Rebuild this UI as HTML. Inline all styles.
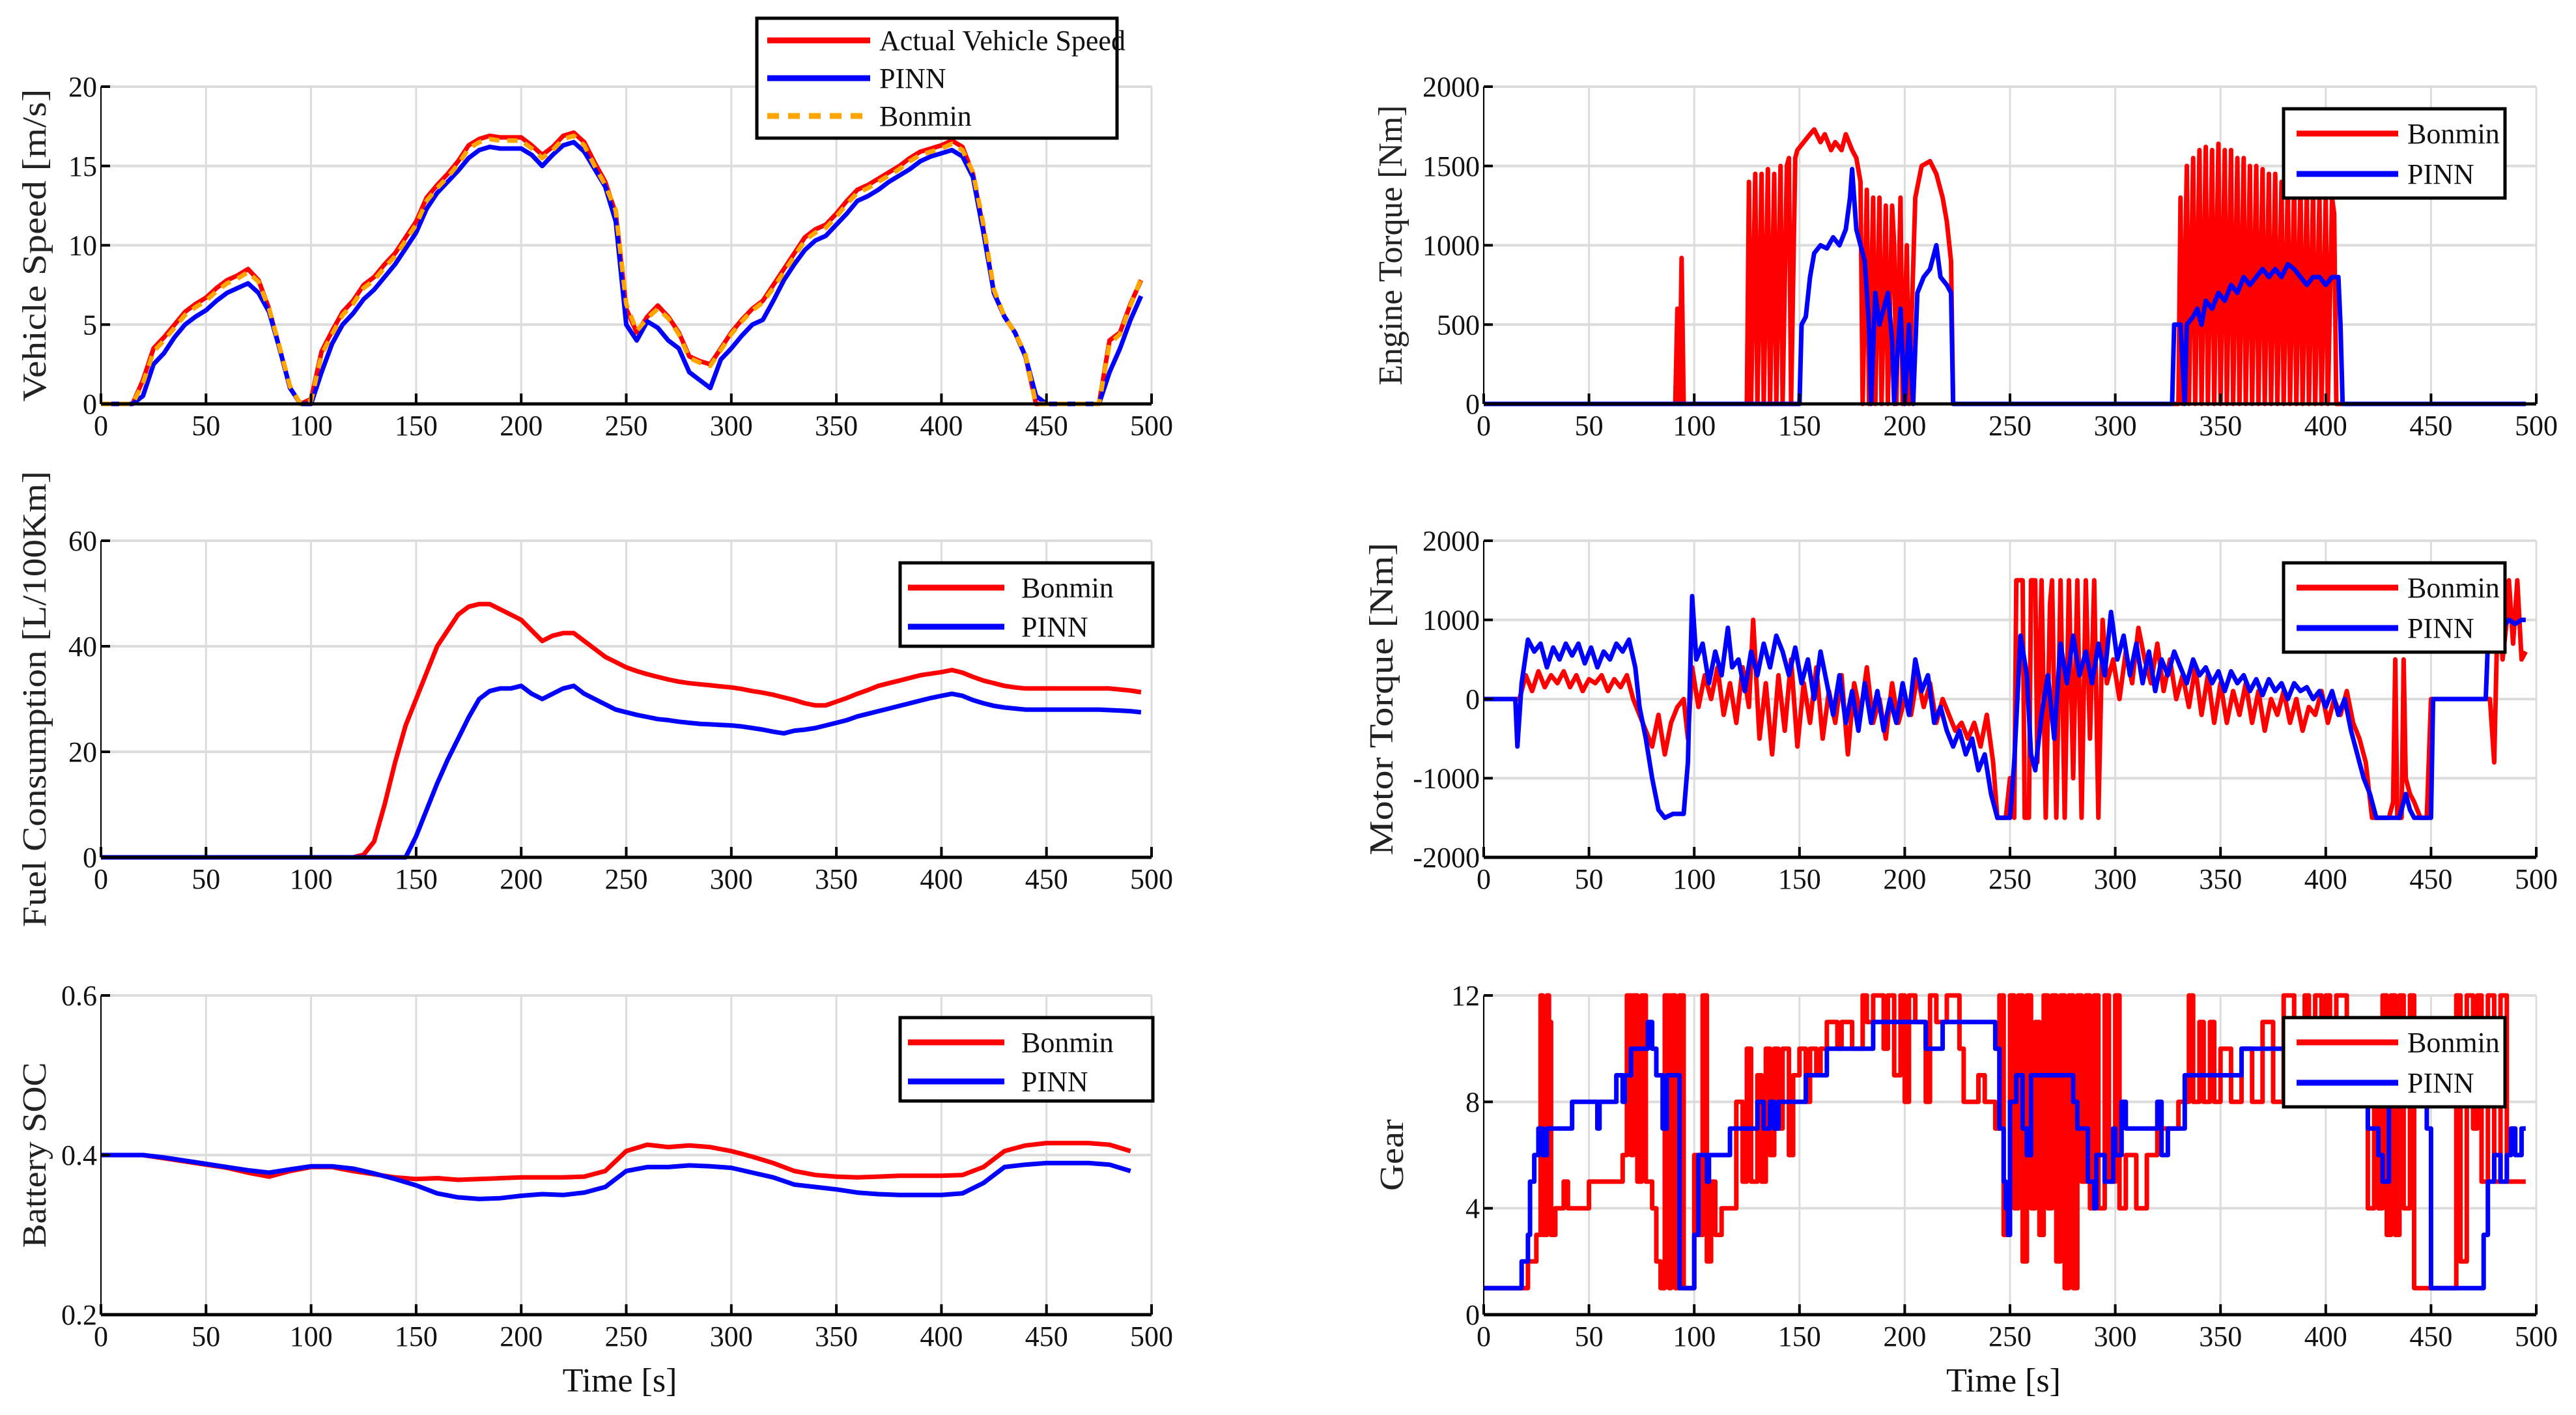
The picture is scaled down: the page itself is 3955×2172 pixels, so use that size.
<!DOCTYPE html>
<html><head><meta charset="utf-8">
<style>
html,body{margin:0;padding:0;background:#fff;}
svg{display:block;font-family:"Liberation Serif",serif;}
</style></head>
<body>
<svg id="fig" width="3955" height="2172" viewBox="0 0 3955 2172" xmlns="http://www.w3.org/2000/svg">
<rect width="3955" height="2172" fill="#fff"/>
</svg>
<script>
// ---- Data ----
const xTicks = [0,50,100,150,200,250,300,350,400,450,500];
const speedDt = 5;
const speedActual = [0,0,0,0,1.5,3.5,4.2,5,5.8,6.3,6.7,7.3,7.8,8.1,8.5,7.8,6,3.5,1,0,
0.3,3.3,4.6,5.8,6.5,7.5,8,8.8,9.5,10.5,
11.5,13,13.8,14.5,15.3,16.3,16.7,16.9,16.8,16.8,
16.8,16.3,15.7,16.2,16.9,17.1,16.5,15.2,14,12,
6,4.5,5.5,6.2,5.5,4.5,3,2.7,2.5,3.5,
4.5,5.3,6,6.5,7.5,8.5,9.5,10.5,11,11.3,
12,12.8,13.5,13.8,14.2,14.6,15,15.5,15.9,16.1,
16.3,16.6,16.2,14.5,11,7,5.5,4.5,3,0,
0,0,0,0,0,0,4,4.5,6.3,7.8];
const speedBonmin = [0,0,0,0,1.3,3.3,4,4.8,5.6,6.1,6.5,7.1,7.6,7.9,8.3,7.7,6,3.6,1.1,0,
0.2,3.1,4.4,5.6,6.3,7.3,7.8,8.6,9.3,10.3,
11.3,12.8,13.6,14.3,15.1,16.1,16.5,16.7,16.6,16.6,
16.6,16.1,15.5,16,16.7,16.9,16.3,15,13.8,12.2,
6.3,4.6,5.4,6,5.4,4.4,2.9,2.6,2.4,3.4,
4.4,5.2,5.9,6.4,7.3,8.3,9.3,10.3,10.8,11.1,
11.8,12.6,13.3,13.6,14,14.4,14.8,15.3,15.7,15.9,
16.1,16.4,16,14.6,11.3,7.2,5.5,4.5,3.1,0,
0,0,0,0,0,0,3.8,4.4,6.2,7.9];
const speedPINN = [0,0,0,0,0.5,2.5,3.2,4.2,5,5.5,5.9,6.5,7,7.3,7.6,7,5.8,3.5,1,0,
0,2,3.8,5,5.7,6.6,7.2,8,8.8,9.8,
10.8,12.3,13.3,14,14.7,15.5,16,16.2,16.1,16.1,
16.1,15.7,15,15.7,16.3,16.5,15.9,14.8,13.7,11.5,
5,4,5.2,4.8,4,3.5,2,1.5,1,2.8,
3.5,4.3,5,5.3,6.5,7.8,8.8,9.7,10.3,10.6,
11.3,12,12.8,13.1,13.5,14,14.4,14.8,15.3,15.6,
15.8,16,15.6,14.3,10.8,7,5.5,4.5,3,0.5,
0,0,0,0,0,0,2,3.5,5.3,6.8];
const speedTicks = [0,5,10,15,20];

const fuelDt = 5;
const fuelBonmin = [0,0,0,0,0,0,0,0,0,0,0,0,0,0,0,0,0,0,0,0,0,0,0,0,0,
0.5,3,10,18,25,30,35,40,43,46,
47.5,48,48,47,46,45,43,41,42,42.5,
42.5,41,39.5,38,37,36,35.3,34.7,34.2,33.7,
33.3,33,32.8,32.6,32.4,32.2,31.9,31.5,31.2,30.8,
30.3,29.8,29.2,28.8,28.8,29.5,30.2,31,31.7,32.5,
33,33.5,34,34.5,34.8,35.1,35.5,35,34.2,33.5,
33,32.5,32.2,32,32,32,32,32,32,32,
32,32,31.8,31.6,31.3];
const fuelPINN = [0,0,0,0,0,0,0,0,0,0,0,0,0,0,0,0,0,0,0,0,0,0,0,0,0,0,0,0,0,0,
4,9,14,18.5,22.5,26.5,30,31.5,32,32,
32.5,31,30,31,32,32.5,31,30,29,28,
27.5,27,26.6,26.2,26,25.7,25.5,25.3,25.2,25.1,
25,24.8,24.5,24.2,23.8,23.5,24,24.2,24.5,25,
25.5,26,26.7,27.2,27.7,28.2,28.7,29.2,29.7,30.2,
30.6,31,30.6,29.8,29.2,28.7,28.4,28.2,28,28,
28,28,28,28,28,28,27.9,27.8,27.7,27.5];
const fuelTicks = [0,20,40,60];

const socDt = 10;
const socBonmin = [0.4,0.4,0.4,0.396,0.392,0.388,0.384,0.378,0.373,0.38,
0.385,0.385,0.38,0.376,0.372,0.37,0.371,0.369,0.37,0.371,
0.372,0.372,0.372,0.373,0.38,0.405,0.413,0.41,0.412,0.41,
0.405,0.398,0.39,0.38,0.375,0.373,0.372,0.373,0.374,0.374,
0.374,0.375,0.385,0.405,0.412,0.415,0.415,0.415,0.413,0.405];
const socPINN = [0.4,0.4,0.4,0.397,0.393,0.389,0.385,0.381,0.378,0.382,
0.386,0.386,0.383,0.377,0.37,0.362,0.352,0.347,0.345,0.346,
0.349,0.351,0.35,0.353,0.36,0.38,0.385,0.385,0.387,0.386,
0.384,0.378,0.372,0.363,0.36,0.357,0.353,0.351,0.35,0.35,
0.35,0.352,0.365,0.385,0.388,0.39,0.39,0.39,0.388,0.38];
const socTicks = [0.2,0.4,0.6];

const engBonmin = [[0,0],[91,0],[92,600],[93,0],[94,920],[95,0],[125,0],[126,1400],[127,0],[129,1450],[130,0],[132,1450],[133,0],[135,1480],[136,0],[138,1450],[139,0],[141,1500],[142,0],[144,1500],[145,1550],[146,0],[148,1550],[149,1600],[152,1650],[155,1700],[157,1730],[160,1650],[162,1700],[165,1600],[167,1650],[170,1600],[172,1700],[175,1600],[177,1550],[179,1400],[180,0],[182,1350],[183,0],[185,1300],[186,0],[188,1300],[189,0],[191,1250],[192,0],[194,1250],[195,1000],[196,0],[198,1300],[199,0],[201,1000],[202,0],[205,1300],[208,1500],[212,1530],[215,1450],[218,1300],[220,1150],[222,900],[223,0],[330,0],[331,1300],[332,0],[334,1500],[335,0],[337,1550],[338,0],[340,1600],[341,0],[343,1620],[344,0],[346,1600],[347,0],[349,1640],[350,0],[352,1600],[353,0],[355,1600],[356,0],[358,1550],[359,0],[361,1550],[362,0],[364,1500],[365,0],[367,1500],[368,0],[370,1480],[371,0],[373,1450],[374,0],[376,1450],[377,0],[379,1400],[380,0],[382,1400],[383,0],[385,1400],[386,0],[388,1400],[389,0],[391,1350],[392,0],[394,1350],[395,0],[397,1300],[398,0],[400,1300],[401,0],[403,1300],[404,1200],[405,0],[495,0]];
const engPINN = [[0,0],[150,0],[151,500],[153,550],[155,800],[157,950],[160,1000],[163,980],[166,1050],[169,1000],[172,1100],[174,1300],[175,1480],[177,1100],[179,1000],[181,900],[183,500],[184,0],[186,700],[188,500],[190,600],[192,700],[194,400],[195,0],[198,600],[200,0],[202,500],[204,0],[206,700],[209,800],[212,850],[215,1000],[217,800],[220,750],[222,700],[223,0],[327,0],[328,500],[331,500],[333,0],[334,500],[337,550],[339,600],[341,500],[343,650],[346,600],[349,700],[352,650],[355,750],[358,700],[361,800],[364,750],[367,800],[370,850],[373,800],[376,850],[379,800],[382,880],[385,850],[388,800],[391,750],[394,800],[397,800],[400,750],[403,800],[406,800],[407,500],[408,0],[495,0]];
const engTicks = [0,500,1000,1500,2000];

const motBonmin = [[0,0],[17,0],[20,300],[23,100],[26,350],[29,150],[32,300],[35,200],[38,350],[41,150],[44,300],[47,100],[50,250],[53,200],[56,300],[59,100],[62,250],[65,150],[68,300],[71,0],[74,-200],[77,-400],[80,-600],[83,-200],[86,-700],[89,-300],[92,-100],[95,0],[97,-500],[99,400],[102,-100],[105,300],[108,0],[111,400],[114,-200],[117,200],[120,-300],[123,400],[126,-100],[128,1000],[131,-500],[134,200],[137,-700],[140,300],[143,-400],[146,500],[149,-600],[152,200],[155,-300],[158,400],[161,-500],[164,100],[167,-300],[170,300],[173,-700],[176,200],[179,-200],[182,400],[185,-300],[188,0],[191,-500],[194,200],[197,-300],[200,0],[203,-200],[206,300],[209,-100],[212,200],[215,-300],[218,0],[221,-200],[224,-400],[227,-300],[230,-500],[233,-300],[236,-600],[239,-200],[242,-800],[244,-1500],[248,-1500],[250,-1000],[252,-1500],[253,1500],[256,1500],[257,-1500],[259,-1500],[260,1500],[262,1500],[263,-800],[265,1500],[267,-1500],[269,1200],[270,1500],[272,-1500],[274,1500],[276,-1500],[278,1500],[280,-1000],[282,1500],[284,-1500],[286,1500],[288,-500],[290,1500],[292,-1500],[294,1000],[296,200],[299,500],[302,0],[305,600],[308,200],[311,900],[314,500],[317,200],[320,700],[323,100],[326,500],[329,0],[332,300],[335,-100],[338,400],[341,-200],[344,300],[347,-300],[350,200],[353,-300],[356,100],[359,-200],[362,200],[365,-300],[368,100],[371,-400],[374,0],[377,-200],[380,100],[383,-300],[386,0],[389,-400],[392,-100],[395,-200],[398,100],[401,-300],[404,0],[407,-200],[410,100],[413,-300],[416,-500],[419,-800],[422,-1500],[430,-1500],[432,-1300],[433,500],[434,-1500],[436,-1500],[437,500],[438,-1000],[440,-1200],[442,-1300],[445,-1500],[448,-1500],[450,0],[478,0],[480,-800],[482,1500],[484,500],[486,1000],[487,1500],[489,700],[491,1500],[493,500],[495,600]];
const motPINN = [[0,0],[15,0],[16,-600],[18,200],[21,750],[24,600],[27,700],[30,400],[33,650],[36,500],[39,700],[42,550],[45,700],[48,450],[51,650],[54,400],[57,600],[60,500],[63,700],[66,600],[69,750],[72,400],[74,-100],[77,-500],[80,-1000],[83,-1400],[86,-1500],[90,-1450],[95,-1450],[97,-800],[99,1300],[101,500],[104,700],[107,200],[110,600],[113,300],[116,900],[118,400],[121,500],[124,100],[127,600],[130,300],[133,700],[136,400],[139,800],[142,600],[145,300],[148,650],[151,200],[154,500],[157,0],[160,600],[163,200],[166,-200],[169,300],[172,-300],[175,100],[178,-400],[181,200],[184,-300],[187,100],[190,-400],[193,0],[196,-300],[199,200],[202,-200],[205,500],[208,100],[211,300],[214,-300],[217,-100],[220,-400],[223,-600],[226,-400],[229,-700],[232,-500],[235,-900],[238,-700],[241,-1200],[244,-1500],[250,-1500],[252,-800],[255,800],[258,300],[260,-700],[262,-900],[265,-200],[268,300],[271,-500],[274,700],[277,200],[280,800],[283,300],[286,600],[289,200],[292,700],[295,300],[298,1100],[301,500],[304,800],[307,300],[310,700],[313,200],[316,600],[319,100],[322,500],[325,300],[328,600],[331,400],[334,200],[337,500],[340,300],[343,400],[346,200],[349,350],[352,100],[355,350],[358,200],[361,300],[364,100],[367,250],[370,50],[373,250],[376,100],[379,200],[382,0],[385,200],[388,100],[391,150],[394,0],[397,100],[400,-100],[403,100],[406,-200],[409,0],[412,-400],[415,-700],[418,-1000],[421,-1200],[424,-1500],[435,-1500],[438,-1200],[440,-1400],[442,-1500],[450,-1500],[451,0],[476,0],[477,700],[479,1000],[481,800],[484,900],[487,1000],[490,950],[493,1000],[495,1000]];
const motTicks = [-2000,-1000,0,1000,2000];

const gearPINN = [[0,1],[18,2],[21,3],[22,5],[24,6],[26,7],[28,6],[30,7],[42,8],[54,7],[55,8],[63,9],[66,8],[67,9],[70,10],[78,11],[80,10],[82,9],[85,7],[87,9],[93,1],[97,1],[100,3],[102,6],[106,5],[107,6],[117,7],[130,8],[133,7],[136,8],[138,7],[140,8],[153,9],[163,10],[185,11],[210,10],[218,11],[243,10],[245,7],[247,5],[248,4],[249,3],[250,8],[253,9],[256,7],[258,6],[260,9],[280,8],[282,7],[287,5],[290,4],[291,6],[295,5],[299,7],[300,6],[303,8],[305,7],[320,8],[322,6],[325,7],[333,9],[360,10],[420,7],[425,6],[427,5],[430,8],[448,7],[450,1],[475,3],[477,5],[480,6],[483,5],[486,6],[488,7],[490,6],[493,7],[495,7]];
const gearBonmin = [[0,1],[21,2],[25,3],[27,12],[28,3],[30,12],[31,11],[32,3],[34,4],[38,5],[40,4],[50,5],[66,6],[68,12],[70,6],[71,12],[73,5],[75,12],[77,5],[80,4],[82,2],[84,1],[86,12],[88,1],[89,12],[91,1],[93,12],[95,1],[100,6],[102,3],[104,12],[106,2],[108,5],[110,3],[113,4],[120,8],[123,5],[125,10],[127,5],[130,9],[132,5],[134,10],[136,6],[138,10],[140,7],[142,10],[145,6],[147,9],[150,10],[153,8],[155,10],[158,9],[160,10],[163,11],[168,10],[170,11],[175,10],[180,12],[182,11],[185,12],[190,10],[192,12],[195,9],[198,12],[200,8],[202,12],[205,11],[210,8],[212,12],[215,11],[220,12],[226,10],[228,8],[235,9],[238,8],[243,7],[245,12],[247,3],[250,12],[252,4],[254,12],[256,2],[258,12],[260,4],[262,11],[264,3],[266,12],[268,4],[270,12],[272,2],[274,12],[276,1],[278,12],[280,1],[282,12],[284,5],[286,12],[288,4],[290,12],[292,4],[295,12],[297,5],[300,12],[302,4],[305,6],[310,4],[315,6],[320,7],[330,8],[335,12],[337,8],[340,11],[342,8],[345,11],[347,8],[350,10],[355,8],[360,10],[365,8],[370,11],[375,8],[380,12],[385,8],[390,12],[392,8],[395,12],[398,8],[400,12],[402,8],[405,12],[410,8],[415,11],[420,4],[423,9],[425,4],[427,12],[429,3],[431,12],[433,3],[435,12],[437,4],[440,12],[442,1],[462,12],[464,2],[467,12],[470,7],[472,12],[474,5],[477,12],[480,5],[483,12],[486,5],[495,5]];
const gearTicks = [0,4,8,12];

// ---- Drawing ----
const NS = "http://www.w3.org/2000/svg";
const svg = document.getElementById('fig');
function mk(tag, attrs, parent){
  const e = document.createElementNS(NS, tag);
  for (const k in attrs) e.setAttribute(k, attrs[k]);
  (parent||svg).appendChild(e);
  return e;
}
const RED = "#ff0000", BLUE = "#0000ff", ORANGE = "#ffa500";
const LW = 7;

function panel(cfg){
  const g = mk('g', {});
  
  
  const sx = v => cfg.x0 + (v - 0) / 500 * (cfg.x1 - cfg.x0);
  const sy = v => cfg.y1 - (v - cfg.ymin) / (cfg.ymax - cfg.ymin) * (cfg.y1 - cfg.y0);
  xTicks.forEach(t => {
    const l = mk('line', {x1:sx(t), x2:sx(t), y1:cfg.y0, y2:cfg.y1, stroke:'#dcdcdc', 'stroke-width':3}, g);
    
    
  });
  cfg.yTicks.forEach(t => {
    const l = mk('line', {x1:cfg.x0, x2:cfg.x1, y1:sy(t), y2:sy(t), stroke:'#dcdcdc', 'stroke-width':4}, g);
    
    
  });
  cfg.series.forEach(s => {
    let pts;
    if (s.dt) pts = s.vals.map((v,i) => [i*s.dt, v]);
    else pts = s.vals;
    let d = '';
    pts.forEach((p,i) => {
      const X = sx(p[0]).toFixed(1), Y = sy(p[1]).toFixed(1);
      if (i === 0) d += 'M' + X + ' ' + Y;
      else if (s.step) d += 'H' + X + 'V' + Y;
      else d += 'L' + X + ' ' + Y;
    });
    const a = {d:d, fill:'none', stroke:s.color, 'stroke-width':LW, 'stroke-linejoin':'round'};
    if (s.dash) a['stroke-dasharray'] = s.dash;
    const p = mk('path', a, g);
    
    
  });
  const ax = mk('line', {x1:cfg.x0, x2:cfg.x1, y1:cfg.y1, y2:cfg.y1, stroke:'#000', 'stroke-width':5}, g);
  
  
  const ay = mk('line', {x1:cfg.x0, x2:cfg.x0, y1:cfg.y0, y2:cfg.y1, stroke:'#000', 'stroke-width':2}, g);
  
  
  xTicks.forEach(t => {
    mk('line', {x1:sx(t), x2:sx(t), y1:cfg.y1, y2:cfg.y1-16, stroke:'#000', 'stroke-width':4}, g);
    const tx = mk('text', {x:sx(t), y:cfg.y1+48, 'font-size':44, 'text-anchor':'middle', fill:'#111'}, g);
    tx.textContent = t;
    
    
  });
  cfg.yTicks.forEach(t => {
    mk('line', {x1:cfg.x0, x2:cfg.x0+14, y1:sy(t), y2:sy(t), stroke:'#000', 'stroke-width':4}, g);
    const tx = mk('text', {x:cfg.x0-6, y:sy(t)+15, 'font-size':44, 'text-anchor':'end', fill:'#111'}, g);
    tx.textContent = t;
    
    
  });
  const yt = mk('text', {x:0, y:0, 'font-size':52, 'text-anchor':'middle', fill:'#222',
    transform:'translate(' + cfg.ylx + ',' + ((cfg.y0+cfg.y1)/2) + ') rotate(-90)'}, g);
  if (cfg.ylen) { yt.setAttribute('textLength', cfg.ylen); yt.setAttribute('lengthAdjust','spacingAndGlyphs'); }
  yt.textContent = cfg.ytitle;
  
  
  if (cfg.xtitle) {
    const xt = mk('text', {x:(cfg.x0+cfg.x1)/2 - 10, y:cfg.y1+118, 'font-size':52, 'text-anchor':'middle', fill:'#111'}, g);
    xt.textContent = 'Time [s]';
    
    
  }
  const L = cfg.legend;
  const lg = mk('g', {}, g);
  
  
  mk('rect', {x:L.x, y:L.y, width:L.w, height:L.h, fill:'#fff', stroke:'#000', 'stroke-width':5}, lg);
  cfg.series.slice().sort((a,b)=>a.lorder-b.lorder).forEach((s,i) => {
    const yy = L.y + L.first + i*L.gap;
    const la = {x1:L.x+L.lx0, x2:L.x+L.lx1, y1:yy, y2:yy, stroke:s.color, 'stroke-width':9};
    if (s.dash) la['stroke-dasharray'] = '18 14';
    const ln = mk('line', la, lg);
    
    
    const tx = mk('text', {x:L.x+L.tx, y:yy+15, 'font-size':44, fill:'#111'}, lg);
    tx.textContent = s.label;
    
    
  });
}

const LX0 = 155, LX1 = 1768, RX0 = 2278, RX1 = 3894;
const rows = [[133,620],[830,1316],[1528,2018]];
const legL = (r) => ({x:1382, y:rows[r][0]+34, w:388, h:128, first:38, gap:60, lx0:12, lx1:160, tx:186});
const legR = (r) => ({x:3506, y:rows[r][0]+34, w:340, h:137, first:38, gap:62, lx0:20, lx1:176, tx:190});

panel({name:'vehicle-speed-chart', x0:LX0, x1:LX1, y0:rows[0][0], y1:rows[0][1], ymin:0, ymax:20, yTicks:speedTicks,
  ytitle:'Vehicle Speed [m/s]', ylx:70, ylen:480,
  legend:{x:1162, y:28, w:553, h:184, first:34, gap:58, lx0:16, lx1:174, tx:188},
  series:[
    {name:'actual-speed-line', label:'Actual Vehicle Speed', color:RED, vals:speedActual, dt:speedDt, lorder:0},
    {name:'pinn-speed-line', label:'PINN', color:BLUE, vals:speedPINN, dt:speedDt, lorder:1},
    {name:'bonmin-speed-line', label:'Bonmin', color:ORANGE, vals:speedBonmin, dt:speedDt, dash:'16 12', lorder:2}
  ]});
panel({name:'engine-torque-chart', x0:RX0, x1:RX1, y0:rows[0][0], y1:rows[0][1], ymin:0, ymax:2000, yTicks:engTicks,
  ytitle:'Engine Torque [Nm]', ylx:2152, ylen:430, legend:legR(0),
  series:[
    {name:'bonmin-engine-line', label:'Bonmin', color:RED, vals:engBonmin, lorder:0},
    {name:'pinn-engine-line', label:'PINN', color:BLUE, vals:engPINN, lorder:1}
  ]});
panel({name:'fuel-consumption-chart', x0:LX0, x1:LX1, y0:rows[1][0], y1:rows[1][1], ymin:0, ymax:60, yTicks:fuelTicks,
  ytitle:'Fuel Consumption [L/100Km]', ylx:70, ylen:700, legend:legL(1),
  series:[
    {name:'bonmin-fuel-line', label:'Bonmin', color:RED, vals:fuelBonmin, dt:fuelDt, lorder:0},
    {name:'pinn-fuel-line', label:'PINN', color:BLUE, vals:fuelPINN, dt:fuelDt, lorder:1}
  ]});
panel({name:'motor-torque-chart', x0:RX0, x1:RX1, y0:rows[1][0], y1:rows[1][1], ymin:-2000, ymax:2000, yTicks:motTicks,
  ytitle:'Motor Torque [Nm]', ylx:2138, ylen:480, legend:legR(1),
  series:[
    {name:'bonmin-motor-line', label:'Bonmin', color:RED, vals:motBonmin, lorder:0},
    {name:'pinn-motor-line', label:'PINN', color:BLUE, vals:motPINN, lorder:1}
  ]});
panel({name:'battery-soc-chart', x0:LX0, x1:LX1, y0:rows[2][0], y1:rows[2][1], ymin:0.2, ymax:0.6, yTicks:socTicks,
  ytitle:'Battery SOC', ylx:70, ylen:285, legend:legL(2), xtitle:true,
  series:[
    {name:'bonmin-soc-line', label:'Bonmin', color:RED, vals:socBonmin, dt:socDt, lorder:0},
    {name:'pinn-soc-line', label:'PINN', color:BLUE, vals:socPINN, dt:socDt, lorder:1}
  ]});
panel({name:'gear-chart', x0:RX0, x1:RX1, y0:rows[2][0], y1:rows[2][1], ymin:0, ymax:12, yTicks:gearTicks,
  ytitle:'Gear', ylx:2154, ylen:110, legend:legR(2), xtitle:true,
  series:[
    {name:'bonmin-gear-line', label:'Bonmin', color:RED, vals:gearBonmin, step:true, lorder:0},
    {name:'pinn-gear-line', label:'PINN', color:BLUE, vals:gearPINN, step:true, lorder:1}
  ]});
</script>
</body></html>
